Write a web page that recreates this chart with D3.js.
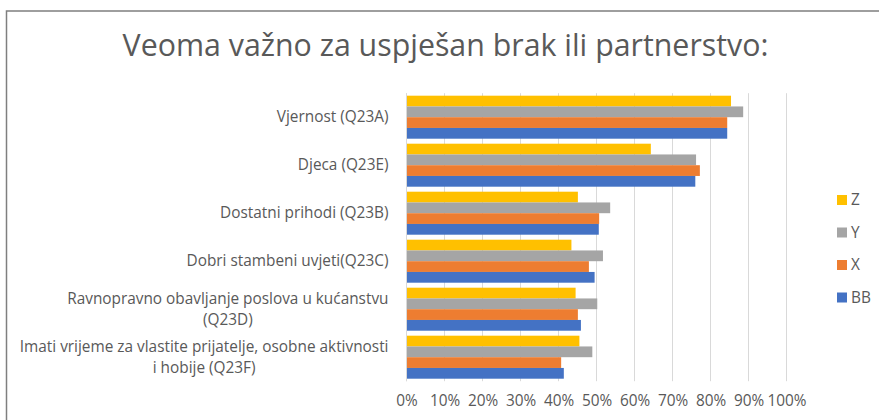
<!DOCTYPE html>
<html><head><meta charset="utf-8">
<script src="https://cdn.jsdelivr.net/npm/d3@7/dist/d3.min.js"></script>
<style>body{margin:0;background:#fff;}svg{display:block;font-family:"Open Sans",sans-serif;}</style>
</head><body><svg id="c" width="879" height="420"></svg>
<script>
const title = "Veoma važno za uspješan brak ili partnerstvo:";
const categories = [
  ["Vjernost (Q23A)"],
  ["Djeca (Q23E)"],
  ["Dostatni prihodi (Q23B)"],
  ["Dobri stambeni uvjeti(Q23C)"],
  ["Ravnopravno obavljanje poslova u kućanstvu", "(Q23D)"],
  ["Imati vrijeme za vlastite prijatelje, osobne aktivnosti", "i hobije (Q23F)"]
];
const seriesNames = ["Z", "Y", "X", "BB"];
const seriesColors = ["#FFC000", "#A5A5A5", "#ED7D31", "#4472C4"];
const valuesZ  = [85.4, 64.3, 45.1, 43.4, 44.5, 45.5];
const valuesY  = [88.6, 76.2, 53.6, 51.7, 50.2, 48.9];
const valuesX  = [84.4, 77.2, 50.7, 48.0, 45.1, 40.7];
const valuesBB = [84.4, 76.0, 50.6, 49.5, 45.9, 41.4];
const seriesValues = [valuesZ, valuesY, valuesX, valuesBB];
const xTicks = [0,10,20,30,40,50,60,70,80,90,100];

const svg = d3.select("#c");
const textColor = "#595959";

// measure helper to size fonts so widths match the reference
function fitSize(str, target, base){
  const t = svg.append("text").attr("font-size",base).text(str);
  const w = t.node().getComputedTextLength(); t.remove();
  return base*target/w;
}
const labelSize = fitSize(categories[5][0], 369, 14);

// chart border
svg.append("rect").attr("x",6.5).attr("y",11).attr("width",900).attr("height",450)
  .attr("fill","none").attr("stroke","#7f7f7f").attr("stroke-width",1.5);

const titleSize = fitSize(title, 646, 28);
svg.append("text").attr("x",445.5).attr("y",56).attr("text-anchor","middle")
  .attr("font-size",titleSize).attr("fill",textColor).text(title);

const x = d3.scaleLinear().domain([0,100]).range([406.5,786.5]);
const step = 48, top0 = 93.2;
const ys = d3.scaleBand().domain(d3.range(seriesNames.length)).range([0, 43]);

// gridlines
svg.append("g").selectAll("line").data(xTicks).join("line")
  .attr("x1",d=>x(d)).attr("x2",d=>x(d)).attr("y1",top0).attr("y2",top0+step*6)
  .attr("stroke","#d9d9d9").attr("stroke-width",1);

// axis labels
const xa = svg.append("g").attr("transform",`translate(0,${top0+step*6})`)
  .call(d3.axisBottom(x).tickValues(xTicks).tickFormat(d=>d+"%").tickSize(0).tickPadding(14));
xa.select(".domain").remove();
xa.selectAll("text").attr("font-size",labelSize).attr("fill",textColor).attr("font-family","'Open Sans', sans-serif");

// bars
categories.forEach((c,i)=>{
  const g0 = top0 + i*step + 2.5;
  seriesValues.forEach((vals,s)=>{
    svg.append("rect").attr("x",x(0)).attr("y",g0+ys(s)).attr("width",x(vals[i])-x(0))
      .attr("height",ys.bandwidth()).attr("fill",seriesColors[s]);
  });
});
svg.append("line").attr("x1",x(0)).attr("x2",x(0)).attr("y1",top0).attr("y2",top0+step*6)
  .attr("stroke","#d9d9d9").attr("stroke-width",1);

// category labels
categories.forEach((lines,i)=>{
  const cy = top0 + i*step + step/2;
  const lh = 21;
  if(lines.length===1){
    svg.append("text").attr("font-size",labelSize).attr("fill",textColor)
      .attr("x",388.5).attr("y",cy+5).attr("text-anchor","end").text(lines[0]);
  } else {
    const tmp = svg.append("text").attr("font-size",labelSize).text(lines[0]);
    const w = tmp.node().getComputedTextLength(); tmp.remove();
    const cx = 388.5 - w/2;
    lines.forEach((l,k)=>{
      svg.append("text").attr("font-size",labelSize).attr("fill",textColor)
        .attr("x",cx).attr("y",cy+5+(k-0.5)*lh).attr("text-anchor","middle").text(l);
    });
  }
});

// legend
const lg = svg.append("g");
seriesNames.forEach((n,s)=>{
  const ly = 200 + s*32.5;
  lg.append("rect").attr("x",837).attr("y",ly-5).attr("width",10).attr("height",10).attr("fill",seriesColors[s]);
  lg.append("text").attr("x",851).attr("y",ly+5).attr("font-size",labelSize).attr("fill",textColor).text(n);
});
</script></body></html>
